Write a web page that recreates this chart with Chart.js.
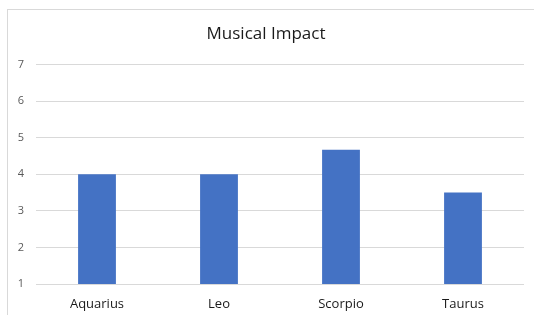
<!DOCTYPE html>
<html>
<head>
<meta charset="utf-8">
<script src="https://cdn.jsdelivr.net/npm/chart.js@4/dist/chart.umd.min.js"></script>
<style>
  html, body { margin: 0; padding: 0; background: #fff; }
  #box {
    position: absolute; left: 7px; top: 9px;
    width: 527px; height: 306px;
    border-top: 1px solid #d9d9d9; border-left: 1px solid #d9d9d9;
    box-sizing: border-box;
  }
  #chart { display: block; }
</style>
</head>
<body>
<div id="box"><canvas id="chart" width="526" height="305"></canvas></div>
<script>
// ── Data ──────────────────────────────────────────────
const signs = ['Aquarius', 'Leo', 'Scorpio', 'Taurus'];
const impactValues = [4, 4, 4.67, 3.5];
const yTicks = [1, 2, 3, 4, 5, 6, 7];

const FONT = 'Open Sans';

new Chart(document.getElementById('chart'), {
  type: 'bar',
  data: {
    labels: signs,
    datasets: [{
      label: 'Musical Impact',
      data: impactValues,
      backgroundColor: '#4472c4',
      borderWidth: 0,
      barPercentage: 0.31,
      categoryPercentage: 1,
    }]
  },
  options: {
    responsive: false, animation: false,
    layout: { padding: { left: 0, right: 10, top: 0, bottom: 0 } },
    plugins: {
      legend: { display: false },
      tooltip: { enabled: false },
      title: {
        display: true, text: 'Musical Impact',
        color: '#1a1a1a',
        font: { family: FONT, size: 17, weight: 'normal' },
        padding: { top: 14, bottom: 20 }
      }
    },
    scales: {
      x: {
        grid: { display: false, drawTicks: false },
        border: { display: false },
        ticks: { color: '#1a1a1a', font: { family: FONT, size: 13 }, padding: 12 },
        afterFit: s => { s.height = 31; }
      },
      y: {
        min: yTicks[0], max: yTicks[yTicks.length - 1],
        afterBuildTicks: s => { s.ticks = yTicks.map(v => ({ value: v })); },
        grid: { color: '#d9d9d9', lineWidth: 1, drawTicks: false },
        border: { display: false },
        ticks: { color: '#595959', font: { family: FONT, size: 11 }, padding: 12 },
        afterFit: s => { s.width = 28; }
      }
    }
  }
});
</script>
</body>
</html>
